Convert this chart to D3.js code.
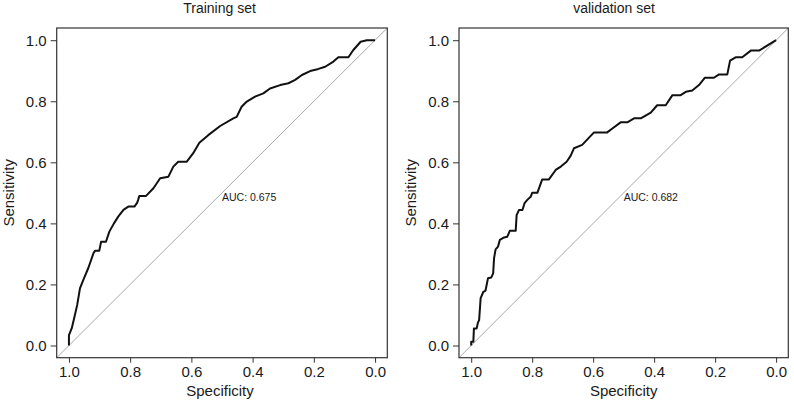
<!DOCTYPE html>
<html><head><meta charset="utf-8">
<script src="https://cdn.jsdelivr.net/npm/d3@7"></script>
<style>body{margin:0;background:#fff}svg{display:block}text{font-family:"Liberation Sans",Arial,Helvetica,sans-serif;fill:#1a1a1a}</style>
</head><body><svg id="c" width="794" height="400"></svg>
<script>
const titles = ["Training set", "validation set"];
const aucLabels = ["AUC: 0.675", "AUC: 0.682"];
const tickValues = [1.0, 0.8, 0.6, 0.4, 0.2, 0.0];
const trainSpec = [1.0,1.0,0.991,0.983,0.973,0.964,0.953,0.937,0.920,0.915,0.901,0.895,0.879,0.868,0.853,0.839,0.822,0.806,0.786,0.777,0.774,0.770,0.748,0.724,0.702,0.675,0.659,0.643,0.615,0.594,0.574,0.545,0.506,0.463,0.452,0.436,0.419,0.392,0.365,0.343,0.310,0.283,0.261,0.239,0.212,0.185,0.163,0.136,0.120,0.087,0.071,0.047,0.027,0.0];
const trainSens = [0.0,0.034,0.056,0.089,0.133,0.187,0.215,0.253,0.302,0.310,0.310,0.340,0.340,0.373,0.400,0.422,0.444,0.455,0.455,0.468,0.477,0.490,0.490,0.515,0.548,0.553,0.586,0.602,0.602,0.630,0.664,0.689,0.719,0.744,0.749,0.782,0.799,0.815,0.826,0.842,0.853,0.859,0.870,0.886,0.899,0.906,0.913,0.930,0.944,0.944,0.968,0.995,1.0,1.0];
const validSpec = [1.0,1.0,0.993,0.991,0.982,0.978,0.974,0.969,0.960,0.953,0.945,0.934,0.928,0.925,0.920,0.912,0.906,0.892,0.882,0.873,0.854,0.851,0.843,0.832,0.825,0.816,0.805,0.800,0.783,0.775,0.767,0.745,0.723,0.706,0.687,0.674,0.663,0.636,0.619,0.597,0.554,0.537,0.510,0.488,0.466,0.444,0.411,0.390,0.362,0.340,0.313,0.296,0.275,0.253,0.234,0.204,0.187,0.160,0.151,0.133,0.111,0.083,0.056,0.0];
const validSens = [0.0,0.012,0.012,0.056,0.056,0.075,0.083,0.155,0.176,0.180,0.220,0.223,0.236,0.286,0.315,0.324,0.346,0.354,0.356,0.376,0.376,0.427,0.444,0.444,0.466,0.477,0.487,0.500,0.500,0.522,0.544,0.544,0.575,0.586,0.602,0.621,0.646,0.657,0.675,0.698,0.698,0.711,0.731,0.731,0.744,0.744,0.763,0.787,0.787,0.820,0.820,0.831,0.835,0.853,0.877,0.877,0.888,0.888,0.933,0.944,0.944,0.966,0.966,1.0];

const svg = d3.select("#c");
const panels = [
  {title: titles[0], auc: aucLabels[0], spec: trainSpec, sens: trainSens, x0: 56.7, x1: 387.3, titleX: 219.5, ylabX: 9},
  {title: titles[1], auc: aucLabels[1], spec: validSpec, sens: validSens, x0: 459, x1: 788.3, titleX: 614, ylabX: 411}
];
const yTop = 28, yBot = 357.7;

panels.forEach((p, i) => {
  const x = d3.scaleLinear().domain([1.04, -0.04]).range([p.x0, p.x1]);
  const y = d3.scaleLinear().domain([-0.04, 1.04]).range([yBot, yTop]);
  const g = svg.append("g");
  const clipId = "clip" + i;
  svg.append("clipPath").attr("id", clipId).append("rect")
    .attr("x", p.x0).attr("y", yTop).attr("width", p.x1 - p.x0).attr("height", yBot - yTop);

  // diagonal
  g.append("line").attr("clip-path", `url(#${clipId})`)
    .attr("x1", x(1.04)).attr("y1", y(-0.04)).attr("x2", x(-0.04)).attr("y2", y(1.04))
    .attr("stroke", "#a8a8a8").attr("stroke-width", 1);

  // curve
  const pts = p.spec.map((s, k) => [s, p.sens[k]]);
  g.append("path").datum(pts)
    .attr("d", d3.line().x(d => x(d[0])).y(d => y(d[1])))
    .attr("fill", "none").attr("stroke", "#111").attr("stroke-width", 2).attr("stroke-linejoin", "round");

  // box
  g.append("rect").attr("x", p.x0).attr("y", yTop).attr("width", p.x1 - p.x0).attr("height", yBot - yTop)
    .attr("fill", "none").attr("stroke", "#333").attr("stroke-width", 1.2);

  // axes
  const xa = g.append("g").attr("transform", `translate(0,${yBot})`)
    .call(d3.axisBottom(x).tickValues(tickValues).tickFormat(d3.format(".1f")).tickSize(5).tickPadding(4));
  const ya = g.append("g").attr("transform", `translate(${p.x0},0)`)
    .call(d3.axisLeft(y).tickValues(tickValues).tickFormat(d3.format(".1f")).tickSize(6).tickPadding(4));
  [xa, ya].forEach(a => {
    a.select(".domain").remove();
    a.selectAll("line").attr("stroke", "#333");
    a.selectAll("text").style("font-size", "15px").style("font-family", '"Liberation Sans",Arial,sans-serif').attr("fill", "#1a1a1a");
  });

  // title
  g.append("text").attr("x", p.titleX).attr("y", 13).attr("text-anchor", "middle")
    .style("font-size", "14px").text(p.title);
  // x label
  g.append("text").attr("x", (p.x0 + p.x1) / 2 - (i === 0 ? 2 : 0)).attr("y", 396).attr("text-anchor", "middle")
    .style("font-size", "15px").text("Specificity");
  // y label
  g.append("text").attr("transform", `translate(${p.ylabX + 5},${(yTop + yBot) / 2}) rotate(-90)`)
    .attr("text-anchor", "middle").style("font-size", "15px").text("Sensitivity");
  // AUC
  g.append("text").attr("x", x(0.5)).attr("y", y(0.5) + 8.5)
    .style("font-size", "10.5px").text(p.auc);
});
</script></body></html>
